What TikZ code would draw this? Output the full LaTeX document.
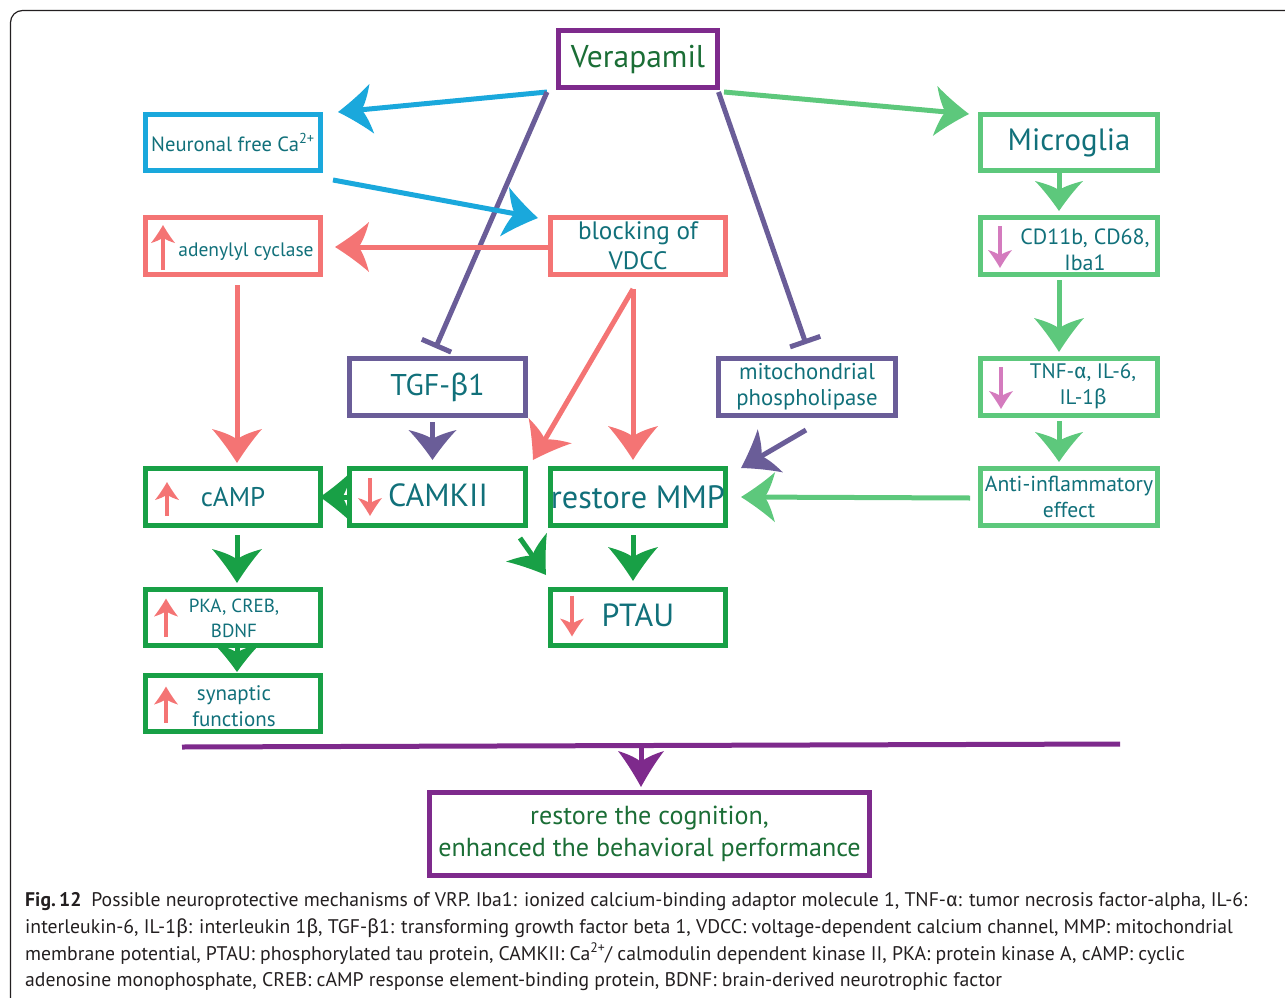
\documentclass[tikz,border=0pt]{standalone}
\usepackage{fontspec}
\setmainfont{PT Sans}
\newfontfamily\grk{Fira Sans}
\usetikzlibrary{arrows.meta,calc}

\pgfdeclarearrow{
  name = Swept,
  parameters = {\the\pgfarrowlength,\the\pgfarrowwidth},
  setup code = {
    \pgfarrowssettipend{0pt}
    \pgfarrowssetbackend{-\pgfarrowlength}
    \pgfarrowssetlineend{-.6\pgfarrowlength}
    \pgfarrowssetvisualbackend{-.7\pgfarrowlength}
    \pgfarrowshullpoint{0pt}{0pt}
    \pgfarrowsupperhullpoint{-\pgfarrowlength}{.5\pgfarrowwidth}
    \pgfarrowssavethe\pgfarrowlength
    \pgfarrowssavethe\pgfarrowwidth
  },
  drawing code = {
    \pgfpathmoveto{\pgfqpoint{0pt}{0pt}}
    \pgfpathcurveto{\pgfqpoint{-.4\pgfarrowlength}{.17\pgfarrowwidth}}{\pgfqpoint{-.75\pgfarrowlength}{.35\pgfarrowwidth}}{\pgfqpoint{-\pgfarrowlength}{.5\pgfarrowwidth}}
    \pgfpathcurveto{\pgfqpoint{-.9\pgfarrowlength}{.25\pgfarrowwidth}}{\pgfqpoint{-.8\pgfarrowlength}{.1\pgfarrowwidth}}{\pgfqpoint{-.7\pgfarrowlength}{0pt}}
    \pgfpathcurveto{\pgfqpoint{-.8\pgfarrowlength}{-.1\pgfarrowwidth}}{\pgfqpoint{-.9\pgfarrowlength}{-.25\pgfarrowwidth}}{\pgfqpoint{-\pgfarrowlength}{-.5\pgfarrowwidth}}
    \pgfpathcurveto{\pgfqpoint{-.75\pgfarrowlength}{-.35\pgfarrowwidth}}{\pgfqpoint{-.4\pgfarrowlength}{-.17\pgfarrowwidth}}{\pgfqpoint{0pt}{0pt}}
    \pgfpathclose
    \pgfusepathqfill
  },
  defaults = {length = 34pt, width = 50pt}
}

\definecolor{cPurple}{HTML}{7E2A8C}
\definecolor{cBlue}{HTML}{1AA8DC}
\definecolor{cSalmon}{HTML}{F47474}
\definecolor{cLGreen}{HTML}{5DC87C}
\definecolor{cDGreen}{HTML}{18A046}
\definecolor{cSlate}{HTML}{6A5D98}
\definecolor{cTeal}{HTML}{11707A}
\definecolor{cDText}{HTML}{1B6E36}
\definecolor{cPink}{HTML}{D47BBE}
\definecolor{cCap}{HTML}{231F20}

\newcommand\myfs[2]{\fontsize{#1}{#2}\selectfont}

\begin{document}
\begin{tikzpicture}[x=1pt,y=-1pt,
  box/.style={draw, line width=5pt, minimum width=175pt, minimum height=57pt, inner sep=0pt, text=cTeal, align=center},
  lbl/.style={text=cTeal, align=center, inner sep=0pt},
  conn/.style={line width=5pt, -{Swept[length=34pt,width=50pt]}},
  shortconn/.style={line width=5pt, -{Swept[length=30pt,width=48pt]}},
  ind/.style={line width=3.5pt, -{Swept[length=18pt,width=24pt]}},
  inh/.style={line width=5pt, -{Bar[width=32pt]}},
  captxt/.style={anchor=base west, inner sep=0pt, text=cCap, font=\myfs{19.7}{23}}
]
\useasboundingbox (0,0) rectangle (1285,998);
\draw[line width=1.2pt, rounded corners=12pt, cCap] (1300,10.5) -- (10.5,10.5) -- (10.5,1010) -- (40,1010);

% ---------- boxes ----------
\node[box, draw=cPurple, text=cDText, minimum width=159pt, font=\myfs{31.5}{36}] (V) at (638,59) {Verapamil};
\node[box, draw=cBlue, minimum height=56pt, font=\myfs{20.6}{24}] (Neu) at (233,142.5) {Neuronal free Ca\textsuperscript{2+}};
\node[box, draw=cSalmon] (Ady) at (233,246) {};
\node[lbl, font=\myfs{19.5}{23}] (AdyT) at (246,252) {adenylyl cyclase};
\node[box, draw=cSalmon, font=\myfs{25.2}{30}] (Blk) at (638,246) {blocking of\\VDCC};
\node[box, draw=cLGreen, minimum width=177pt, minimum height=56pt, font=\myfs{30.8}{36}] (Mic) at (1069,142.5) {Microglia};
\node[box, draw=cLGreen, minimum width=177pt] (CD) at (1069,246) {};
\node[lbl, font=\myfs{22}{26}] (CDT) at (1085,250) {CD11b, CD68,\\Iba1};
\node[box, draw=cSlate, minimum width=176pt, font=\myfs{30}{36}] (TGF) at (437.5,387) {TGF-{\grk β}1};
\node[box, draw=cSlate, minimum width=177pt, font=\myfs{22.8}{26}] (Mito) at (807,387) {mitochondrial\\phospholipase};
\node[box, draw=cLGreen, minimum width=177pt] (TNF) at (1069,387) {};
\node[lbl, font=\myfs{21}{26}] (TNFT) at (1083,386) {TNF-{\grk α}, IL-6,\\IL-1{\grk β}};
\node[box, draw=cDGreen] (cAMP) at (233,497) {};
\node[lbl, font=\myfs{27}{32}] (cAMPT) at (233,497) {cAMP};
\node[box, draw=cDGreen, minimum width=176pt] (CAM) at (437.5,497) {};
\node[lbl, font=\myfs{32}{40}] (CAMT) at (438,495) {CAMKII};
\node[box, draw=cDGreen, font=\myfs{32.3}{40}] (MMP) at (638,497) {\raisebox{-5pt}{restore MMP}};
\node[box, draw=cLGreen, minimum width=177pt, font=\myfs{21.6}{26}] (Anti) at (1069,497) {Anti-inflammatory\\effect};
\node[box, draw=cDGreen, minimum height=56pt] (PKA) at (233,617.5) {};
\node[lbl, font=\myfs{19}{25}] (PKAT) at (234,618) {PKA, CREB,\\BDNF};
\node[box, draw=cDGreen, minimum height=56pt] (PTAU) at (638,617.5) {};
\node[lbl, font=\myfs{32}{38}] (PTAUT) at (638,615) {PTAU};
\node[box, draw=cDGreen, minimum height=56pt] (Syn) at (233,703.5) {};
\node[lbl, font=\myfs{21}{26}] (SynT) at (234,706) {synaptic\\functions};
\node[box, draw=cPurple, text=cDText, minimum width=440pt, minimum height=83pt, font=\myfs{26.1}{32}] (Fin) at (649.5,834) {restore the cognition,\\enhanced the behavioral performance};

% ---------- connectors ----------
\draw[conn, cBlue] ($(V.south west)+(-9,2)$) -- ($(Neu.north east)+(15,0)$);
\draw[conn, cLGreen] ($(V.south east)+(4,2)$) -- ($(Mic.north west)+(-9,2)$);
\draw[inh, cSlate] ($(V.south west)+(-9,2)$) -- ($(TGF.north)+(-2,-8)$);
\draw[inh, cSlate] ($(V.south east)+(-1.5,2)$) -- ($(Mito.north)+(-1,-12)$);
\draw[conn, cBlue] ($(Neu.south east)+(10,7)$) -- ($(Blk.north west)+(-10,3)$);
\draw[conn, cSalmon] ($(Blk.west)+(0,1)$) -- ($(Ady.east)+(12,1)$);
\draw[conn, cSalmon] ($(Ady.south)+(4,8)$) -- ($(cAMP.north)+(4,-3)$);
\draw[conn, cSalmon] ($(Blk.south)+(-5,12)$) -- ($(CAM.north east)+(5,-6)$);
\draw[conn, cSalmon] ($(Blk.south)+(-5,12)$) -- ($(MMP.north)+(-5,-6)$);
\draw[shortconn, cSlate] ($(TGF.south)+(-5,4)$) -- ($(CAM.north)+(-5,-6)$);
\draw[conn, cSlate] ($(Mito.south)+(-1,12)$) -- ($(MMP.north east)+(13,2)$);
\draw[shortconn, cLGreen] ($(Mic.south)+(-10,0)$) -- ($(CD.north)+(-10,-4)$);
\draw[conn, cLGreen] ($(CD.south)+(-10,3)$) -- ($(TNF.north)+(-10,-4)$);
\draw[shortconn, cLGreen] ($(TNF.south)+(-10,3)$) -- ($(Anti.north)+(-10,-4)$);
\draw[conn, cLGreen] ($(Anti.west)+(-8,1)$) -- ($(MMP.east)+(13,0)$);
\draw[line width=5pt, cDGreen, -{Swept[length=32pt,width=52pt]}] ($(CAM.west)+(2,0)$) -- ($(cAMP.east)+(-3,0)$);
\draw[conn, cDGreen] ($(cAMP.south)+(4,7)$) -- ($(PKA.north)+(4,-4)$);
\draw[line width=5pt, cDGreen, -{Swept[length=28pt,width=46pt]}] ($(PKA.south)+(4,0)$) -- ($(Syn.north)+(4,-1)$);
\draw[conn, cDGreen] ($(CAM.south east)+(-8,10)$) -- ($(PTAU.north west)+(-2,-12)$);
\draw[conn, cDGreen] ($(MMP.south)+(-5,7)$) -- ($(PTAU.north)+(-5,-6)$);

% collecting bar
\coordinate (L1) at (182,747);
\coordinate (L2) at (1120,744);
\coordinate (J) at (641,746);
\draw[line width=5pt, cPurple] (L1) -- (L2);
\draw[line width=5pt, cPurple, -{Swept[length=36pt,width=46pt]}] (J) -- ($(Fin.north)+(-8.5,-3)$);

% ---------- indicators ----------
\draw[ind, cSalmon] ($(Ady.center)+(-70,24)$) -- ($(Ady.center)+(-70,-21)$);
\draw[ind, cSalmon] ($(cAMP.center)+(-66,19)$) -- ($(cAMP.center)+(-66,-15)$);
\draw[ind, cSalmon] ($(CAM.center)+(-67.5,-19)$) -- ($(CAM.center)+(-67.5,19)$);
\draw[ind, cSalmon] ($(PKA.center)+(-67,19)$) -- ($(PKA.center)+(-67,-19)$);
\draw[ind, cSalmon] ($(Syn.center)+(-67,19)$) -- ($(Syn.center)+(-67,-17)$);
\draw[ind, cSalmon] ($(PTAU.center)+(-66,-22)$) -- ($(PTAU.center)+(-66,19)$);
\draw[ind, cPink] ($(CD.center)+(-69,-20)$) -- ($(CD.center)+(-69,22)$);
\draw[ind, cPink] ($(TNF.center)+(-68,-20)$) -- ($(TNF.center)+(-68,22)$);

% ---------- caption ----------
\node[captxt] (cap1) at (25,906) {\textbf{Fig.\,12}\enspace Possible neuroprotective mechanisms of VRP. Iba1: ionized calcium-binding adaptor molecule 1, TNF-{\grk α}: tumor necrosis factor-alpha, IL-6:};
\node[captxt] (cap2) at (25,933) {interleukin-6, IL-1{\grk β}: interleukin 1{\grk β}, TGF-{\grk β}1: transforming growth factor beta 1, VDCC: voltage-dependent calcium channel, MMP: mitochondrial};
\node[captxt] (cap3) at (25,960) {membrane potential, PTAU: phosphorylated tau protein, CAMKII: Ca\textsuperscript{2+}/ calmodulin dependent kinase II, PKA: protein kinase A, cAMP: cyclic};
\node[captxt] (cap4) at (25,986) {adenosine monophosphate, CREB: cAMP response element-binding protein, BDNF: brain-derived neurotrophic factor};
\end{tikzpicture}
\end{document}
